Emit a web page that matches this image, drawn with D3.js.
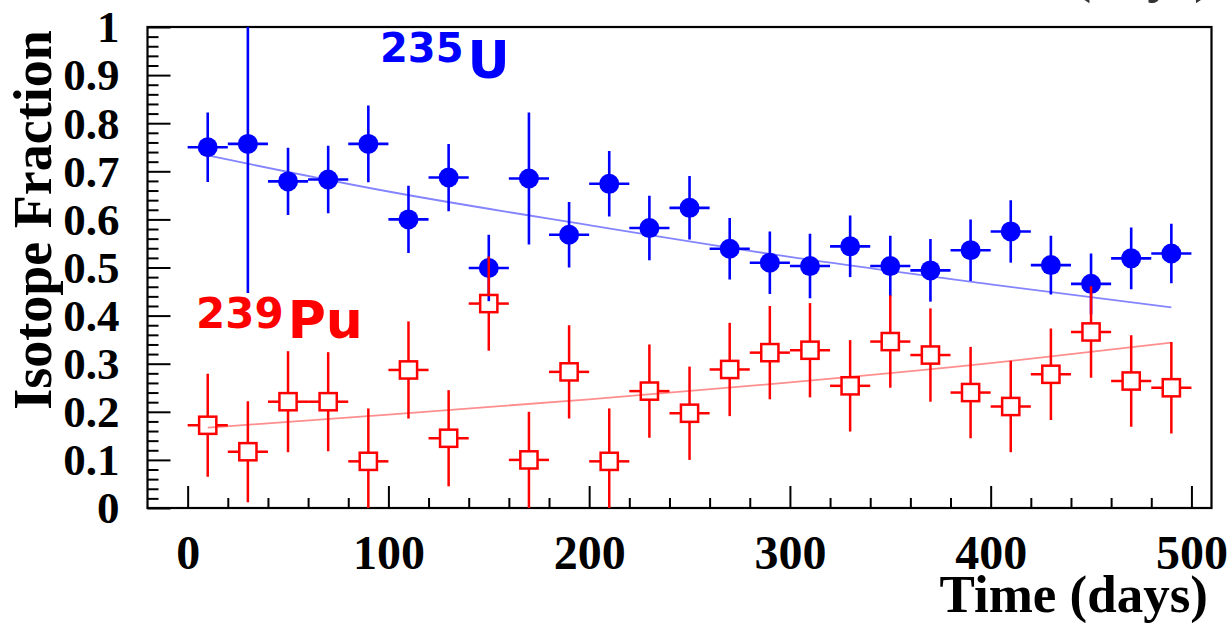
<!DOCTYPE html>
<html>
<head>
<meta charset="utf-8">
<script src="https://cdn.jsdelivr.net/npm/d3@7"></script>
<style>
  html, body { margin: 0; padding: 0; background: #fff; }
  svg { display: block; }
</style>
</head>
<body>
<svg id="chart" width="1231" height="623"></svg>
<script>
// Time bins (days, bin centres, each bin 20 days wide)
const days = [10, 30, 50, 70, 90, 110, 130, 150, 170, 190, 210, 230, 250,
              270, 290, 310, 330, 350, 370, 390, 410, 430, 450, 470, 490];
const binHalfWidth = 10;

// 235U fraction per bin and its uncertainty
const u235 = [0.750, 0.757, 0.679, 0.683, 0.757, 0.600, 0.687, 0.499, 0.685, 0.568, 0.674, 0.582, 0.624,
              0.539, 0.510, 0.503, 0.544, 0.503, 0.494, 0.536, 0.575, 0.505, 0.466, 0.519, 0.529];
const u235Err = [0.072, 0.310, 0.070, 0.070, 0.080, 0.070, 0.070, 0.069, 0.137, 0.068, 0.068, 0.067, 0.066,
                 0.064, 0.065, 0.067, 0.064, 0.063, 0.065, 0.064, 0.065, 0.061, 0.063, 0.064, 0.062];

// 239Pu fraction per bin and its uncertainty
const pu239 = [0.172, 0.117, 0.221, 0.221, 0.097, 0.287, 0.145, 0.425, 0.100, 0.283, 0.097, 0.243, 0.197,
               0.288, 0.323, 0.328, 0.254, 0.346, 0.318, 0.240, 0.211, 0.278, 0.366, 0.264, 0.250];
const pu239Err = [0.107, 0.105, 0.105, 0.103, 0.110, 0.101, 0.100, 0.098, 0.100, 0.097, 0.110, 0.097, 0.097,
                  0.097, 0.097, 0.098, 0.095, 0.096, 0.097, 0.095, 0.095, 0.095, 0.095, 0.095, 0.095];

// Fitted trend curves, sampled along the time axis
const fitDays = [10, 100, 200, 300, 400, 490];
const u235Fit = [0.733, 0.658, 0.588, 0.522, 0.465, 0.417];
const pu239Fit = [0.167, 0.194, 0.226, 0.261, 0.301, 0.344];

// Axis ticks
const xMajorTicks = [0, 100, 200, 300, 400, 500];
const xMinorTicks = [20, 40, 60, 80, 120, 140, 160, 180, 220, 240, 260, 280,
                     320, 340, 360, 380, 420, 440, 460, 480];
const yMajorTicks = [0, 0.1, 0.2, 0.3, 0.4, 0.5, 0.6, 0.7, 0.8, 0.9, 1];
const yMinorTicks = [0.02, 0.04, 0.06, 0.08, 0.12, 0.14, 0.16, 0.18, 0.22, 0.24, 0.26, 0.28,
                     0.32, 0.34, 0.36, 0.38, 0.42, 0.44, 0.46, 0.48, 0.52, 0.54, 0.56, 0.58,
                     0.62, 0.64, 0.66, 0.68, 0.72, 0.74, 0.76, 0.78, 0.82, 0.84, 0.86, 0.88,
                     0.92, 0.94, 0.96, 0.98];

const xTitle = "Time (days)";
const yTitle = "Isotope Fraction";

const svg = d3.select("#chart");
const serif = "'Liberation Serif', 'Times New Roman', serif";
const sans = "'DejaVu Sans', sans-serif";

const x = d3.scaleLinear().domain([-20, 510]).range([147.5, 1211.5]);
const y = d3.scaleLinear().domain([0, 1]).range([508, 27]);

const plotLeft = x.range()[0], plotRight = x.range()[1];
const plotTop = y.range()[1], plotBottom = y.range()[0];

svg.append("defs").append("clipPath").attr("id", "plotClip")
  .append("rect")
  .attr("x", plotLeft).attr("y", plotTop)
  .attr("width", plotRight - plotLeft).attr("height", plotBottom - plotTop);

// Header text of the panel above, cut by the top edge
svg.append("text")
  .attr("x", 1212).attr("y", -8)
  .attr("text-anchor", "end")
  .style("font-family", serif).style("font-weight", "bold").style("font-size", "53px")
  .attr("fill", "#333")
  .text(xTitle);

// ---- Axes (ticks point inward) ----
function styleAxis(g) {
  g.select(".domain").remove();
  g.selectAll(".tick line").attr("stroke", "#000").attr("stroke-width", 2);
}

const xAxisMajor = svg.append("g")
  .attr("transform", `translate(0,${plotBottom})`)
  .call(d3.axisBottom(x).tickValues(xMajorTicks).tickSize(-22).tickFormat(d3.format("d")));
styleAxis(xAxisMajor);
xAxisMajor.selectAll("text")
  .attr("y", 61).attr("dy", 0)
  .style("font-family", serif).style("font-weight", "bold").style("font-size", "48px")
  .attr("fill", "#000");

const xAxisMinor = svg.append("g")
  .attr("transform", `translate(0,${plotBottom})`)
  .call(d3.axisBottom(x).tickValues(xMinorTicks).tickSize(-10).tickFormat(""));
styleAxis(xAxisMinor);

const yAxisMajor = svg.append("g")
  .attr("transform", `translate(${plotLeft},0)`)
  .call(d3.axisLeft(y).tickValues(yMajorTicks).tickSize(-23).tickPadding(28)
    .tickFormat(d => d === 0 || d === 1 ? d3.format("d")(d) : d3.format(".1f")(d)));
styleAxis(yAxisMajor);
yAxisMajor.selectAll("text")
  .attr("dy", "0.33em")
  .style("font-family", serif).style("font-weight", "bold").style("font-size", "45px")
  .attr("fill", "#000");

const yAxisMinor = svg.append("g")
  .attr("transform", `translate(${plotLeft},0)`)
  .call(d3.axisLeft(y).tickValues(yMinorTicks).tickSize(-11).tickFormat(""));
styleAxis(yAxisMinor);

// Frame
svg.append("rect")
  .attr("x", plotLeft).attr("y", plotTop)
  .attr("width", plotRight - plotLeft).attr("height", plotBottom - plotTop)
  .attr("fill", "none").attr("stroke", "#000").attr("stroke-width", 2.2);

// Axis titles
svg.append("text")
  .attr("x", 1208).attr("y", 612)
  .attr("text-anchor", "end")
  .style("font-family", serif).style("font-weight", "bold").style("font-size", "53px")
  .attr("fill", "#000")
  .text(xTitle);

svg.append("text")
  .attr("transform", "translate(51,220) rotate(-90)")
  .attr("text-anchor", "middle")
  .style("font-family", serif).style("font-weight", "bold").style("font-size", "54px")
  .attr("fill", "#000")
  .text(yTitle);

// ---- Plot contents ----
const plot = svg.append("g").attr("clip-path", "url(#plotClip)");

const fitLine = d3.line().x(d => x(d[0])).y(d => y(d[1])).curve(d3.curveMonotoneX);

plot.append("path")
  .datum(fitDays.map((d, i) => [d, u235Fit[i]]))
  .attr("d", fitLine)
  .attr("fill", "none").attr("stroke", "#6f6fff").attr("stroke-width", 1.8).attr("opacity", 0.85);

plot.append("path")
  .datum(fitDays.map((d, i) => [d, pu239Fit[i]]))
  .attr("d", fitLine)
  .attr("fill", "none").attr("stroke", "#ff7a7a").attr("stroke-width", 1.8).attr("opacity", 0.85);

// 235U: filled circles with full error crosses
const uData = days.map((d, i) => ({ t: d, v: u235[i], e: u235Err[i] }));
const uG = plot.append("g").attr("stroke", "#0000ff").attr("stroke-width", 2.6);
uG.selectAll("line.h").data(uData).join("line").attr("class", "h")
  .attr("x1", d => x(d.t - binHalfWidth)).attr("x2", d => x(d.t + binHalfWidth))
  .attr("y1", d => y(d.v)).attr("y2", d => y(d.v));
uG.selectAll("line.v").data(uData).join("line").attr("class", "v")
  .attr("x1", d => x(d.t)).attr("x2", d => x(d.t))
  .attr("y1", d => y(d.v + d.e)).attr("y2", d => y(d.v - d.e));
plot.append("g").selectAll("circle").data(uData).join("circle")
  .attr("cx", d => x(d.t)).attr("cy", d => y(d.v)).attr("r", 10)
  .attr("fill", "#0000ff");

// 239Pu: open squares, error bars stop at the marker edge
const half = 8.6;
const pData = days.map((d, i) => ({ t: d, v: pu239[i], e: pu239Err[i] }));
const pG = plot.append("g").attr("stroke", "#ff0000").attr("stroke-width", 2.5).attr("fill", "none");
pG.selectAll("line.hl").data(pData).join("line").attr("class", "hl")
  .attr("x1", d => x(d.t - binHalfWidth)).attr("x2", d => x(d.t) - half)
  .attr("y1", d => y(d.v)).attr("y2", d => y(d.v));
pG.selectAll("line.hr").data(pData).join("line").attr("class", "hr")
  .attr("x1", d => x(d.t) + half).attr("x2", d => x(d.t + binHalfWidth))
  .attr("y1", d => y(d.v)).attr("y2", d => y(d.v));
pG.selectAll("line.vt").data(pData).join("line").attr("class", "vt")
  .attr("x1", d => x(d.t)).attr("x2", d => x(d.t))
  .attr("y1", d => y(d.v + d.e)).attr("y2", d => y(d.v) - half);
pG.selectAll("line.vb").data(pData).join("line").attr("class", "vb")
  .attr("x1", d => x(d.t)).attr("x2", d => x(d.t))
  .attr("y1", d => y(d.v) + half).attr("y2", d => y(d.v - d.e));
pG.selectAll("rect").data(pData).join("rect")
  .attr("x", d => x(d.t) - half).attr("y", d => y(d.v) - half)
  .attr("width", 2 * half).attr("height", 2 * half);

// Isotope labels
const uLabel = svg.append("text").attr("x", 380).attr("fill", "#0000ff")
  .style("font-family", sans).style("font-weight", "bold");
uLabel.append("tspan").attr("y", 62).style("font-size", "40px").text("235");
uLabel.append("tspan").attr("y", 78).attr("dx", 4).style("font-size", "52px").text("U");

const puLabel = svg.append("text").attr("x", 196).attr("fill", "#ff0000")
  .style("font-family", sans).style("font-weight", "bold");
puLabel.append("tspan").attr("y", 328).style("font-size", "42px").text("239");
puLabel.append("tspan").attr("y", 338).attr("dx", 4).style("font-size", "52px").text("Pu");
</script>
</body>
</html>
